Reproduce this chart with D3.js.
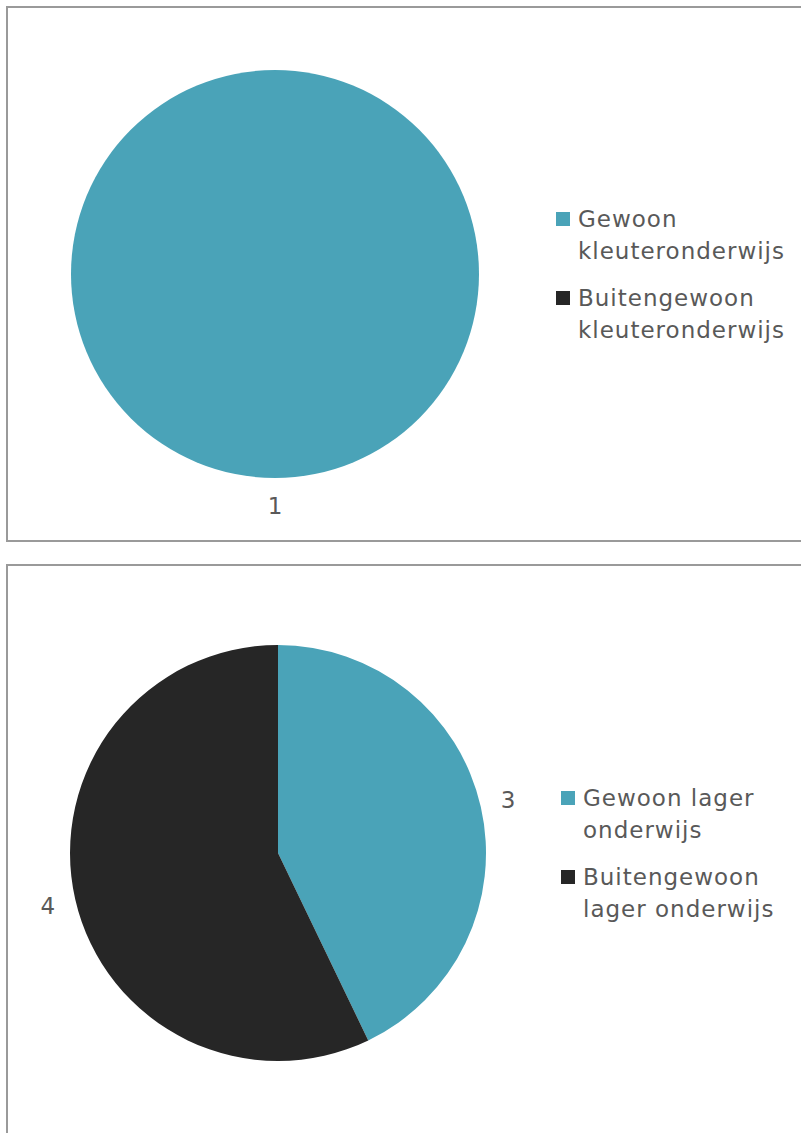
<!DOCTYPE html>
<html>
<head>
<meta charset="utf-8">
<script src="https://cdn.jsdelivr.net/npm/d3@7"></script>
<style>
  html, body { margin: 0; padding: 0; background: #ffffff; }
  svg { display: block; }
</style>
</head>
<body>
<svg id="chart" width="801" height="1133"></svg>
<script>
// Two pie charts: pupils in kindergarten and primary education (regular vs. special)
const kleuterCategories = ["Gewoon kleuteronderwijs", "Buitengewoon kleuteronderwijs"];
const kleuterValues = [1, 0];

const lagerCategories = ["Gewoon lager onderwijs", "Buitengewoon lager onderwijs"];
const lagerValues = [3, 4];

const sliceColors = ["#4AA3B8", "#262626"];
const textColor = "#595959";
const fontFamily = "'DejaVu Sans', 'Noto Sans', sans-serif";
const fontSize = 23;
const letterSpacing = 1;

const svg = d3.select("#chart");

// Panel frames (each extends past the right edge of the page)
const panels = [
  { top: 7, height: 534, cx: 275, cy: 274, r: 204, legendX: 556, legendY: 212,
    cats: kleuterCategories, vals: kleuterValues },
  { top: 565, height: 700, cx: 278, cy: 853, r: 208, legendX: 561, legendY: 791,
    cats: lagerCategories, vals: lagerValues }
];

// Break a label into lines that fit the legend column
function wrapLines(text, maxWidth) {
  const probe = svg.append("text")
    .attr("font-family", fontFamily).attr("font-size", fontSize)
    .attr("letter-spacing", letterSpacing);
  const words = text.split(" ");
  const lines = [];
  let line = "";
  words.forEach(w => {
    const test = line ? line + " " + w : w;
    probe.text(test);
    if (probe.node().getComputedTextLength() > maxWidth && line) {
      lines.push(line);
      line = w;
    } else {
      line = test;
    }
  });
  if (line) lines.push(line);
  probe.remove();
  return lines;
}

panels.forEach(p => {
  svg.append("rect")
    .attr("x", 7).attr("y", p.top)
    .attr("width", 820).attr("height", p.height)
    .attr("fill", "none")
    .attr("stroke", "#9a9a9a")
    .attr("stroke-width", 2);

  const color = d3.scaleOrdinal().domain(p.cats).range(sliceColors);
  const pie = d3.pie().sort(null).value(d => d.value);
  const data = p.cats.map((c, i) => ({ category: c, value: p.vals[i] }));
  const arcs = pie(data);

  const g = svg.append("g").attr("transform", `translate(${p.cx},${p.cy})`);
  const arc = d3.arc().innerRadius(0).outerRadius(p.r);
  const labelArc = d3.arc().innerRadius(p.r + 28).outerRadius(p.r + 28);

  g.selectAll("path")
    .data(arcs.filter(a => a.value > 0))
    .join("path")
    .attr("d", arc)
    .attr("fill", d => color(d.data.category));

  g.selectAll("text.value")
    .data(arcs.filter(a => a.value > 0))
    .join("text")
    .attr("class", "value")
    .attr("transform", d => `translate(${labelArc.centroid(d)})`)
    .attr("text-anchor", "middle")
    .attr("dominant-baseline", "central")
    .attr("font-family", fontFamily)
    .attr("font-size", fontSize)
    .attr("fill", textColor)
    .text(d => d.data.value);

  // Legend
  const legend = svg.append("g").attr("transform", `translate(${p.legendX},${p.legendY})`);
  let y = 0;
  p.cats.forEach(c => {
    const lines = wrapLines(c, 225);
    legend.append("rect")
      .attr("x", 0).attr("y", y)
      .attr("width", 14).attr("height", 14)
      .attr("fill", color(c));
    const t = legend.append("text")
      .attr("x", 22).attr("y", y + 15)
      .attr("font-family", fontFamily)
      .attr("font-size", fontSize)
      .attr("letter-spacing", letterSpacing)
      .attr("fill", textColor);
    lines.forEach((ln, i) => {
      t.append("tspan").attr("x", 22).attr("dy", i === 0 ? 0 : 32).text(ln);
    });
    y += 32 * lines.length + 15;
  });
});
</script>
</body>
</html>
